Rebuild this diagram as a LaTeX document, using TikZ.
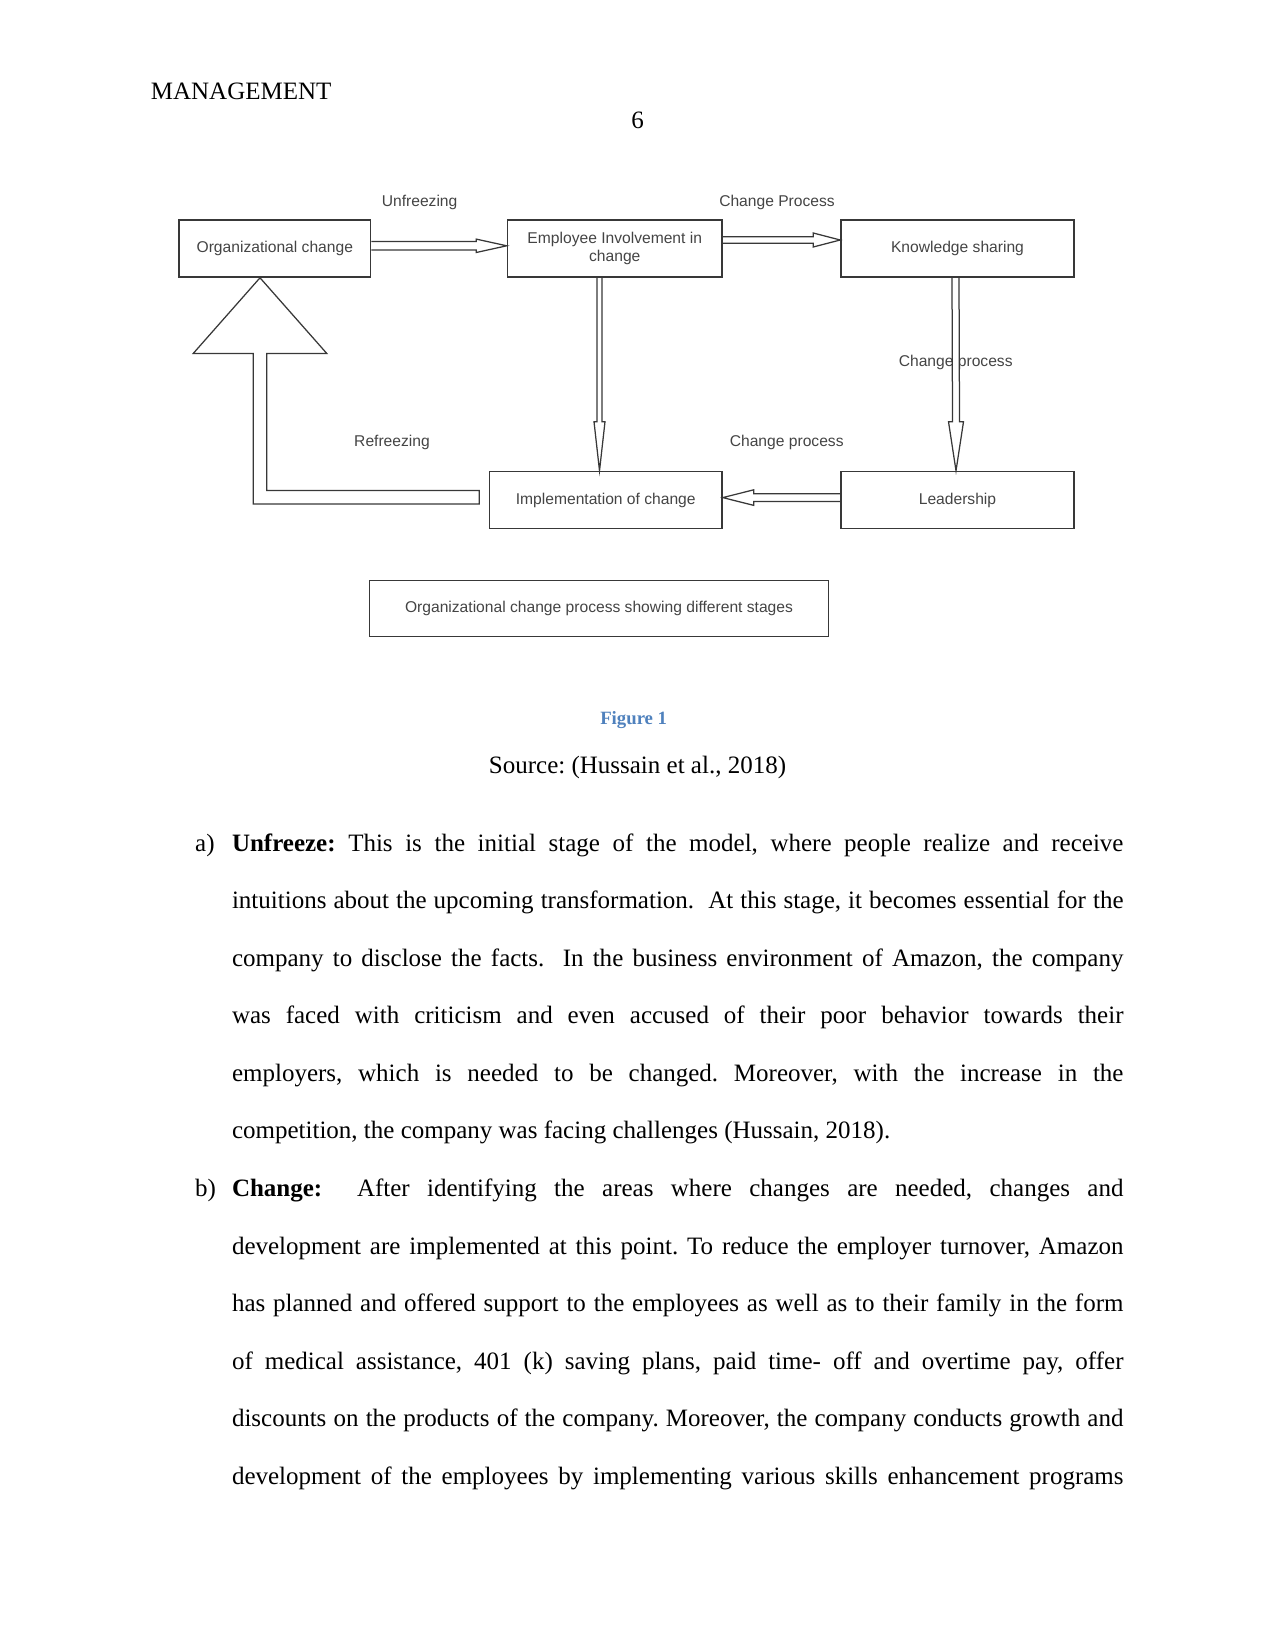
\documentclass[tikz,border=0pt]{standalone}
\usepackage{fontspec}
\setmainfont{Liberation Serif}
\newfontfamily\diag{Liberation Sans}
\usetikzlibrary{calc}
\frenchspacing
\newdimen\px \px=0.48pt
\definecolor{txt}{HTML}{444444}
\definecolor{ln}{HTML}{383838}
\definecolor{figblue}{HTML}{4F81BD}
\newcommand\jl[1]{\hbox to 427.9pt{#1}}
\newcommand\harrow[5]{\draw[arrline] ($(#1)+(0,-#3)$) -- ($(#2)+(#5,-#3)$) -- ($(#2)+(#5,-#4)$) -- (#2) -- ($(#2)+(#5,#4)$) -- ($(#2)+(#5,#3)$) -- ($(#1)+(0,#3)$);}
\newcommand\varrow[5]{\draw[arrline] ($(#1)+(-#3,0)$) -- ($(#2)+(-#3,#5)$) -- ($(#2)+(-#4,#5)$) -- (#2) -- ($(#2)+(#4,#5)$) -- ($(#2)+(#3,#5)$) -- ($(#1)+(#3,0)$);}
\begin{document}
\begin{tikzpicture}[x=0.48pt,y=-0.48pt,
  box/.style={draw=ln, line width=0.75pt, inner sep=0pt, align=center,
    font=\diag\fontsize{7.5}{8.6}\selectfont, text=txt},
  lbl/.style={inner sep=0pt, font=\diag\fontsize{7.5}{8.6}\selectfont, text=txt},
  arrline/.style={draw=ln, line width=0.6pt, fill=white, line join=miter},
  body/.style={anchor=base west, inner sep=0pt, font=\fontsize{12}{14}\selectfont},
  plain/.style={inner sep=0pt, font=\fontsize{12}{14}\selectfont}]
\useasboundingbox (0,0) rectangle (1275,1651);

% header
\node[plain, anchor=base west] (hdr) at (150.5,99.5) {MANAGEMENT};
\node[plain, anchor=base] (pg) at (637.5,128.2) {6};

% diagram labels
\node[lbl] (lunf) at (419.6,202) {Unfreezing};
\node[lbl] (lcp1) at (777,202) {Change Process};
\node[lbl] (lcp2) at (955.7,362.3) {Change process};
\node[lbl] (lcp3) at (786.7,442) {Change process};
\node[lbl] (lref) at (392,442) {Refreezing};

% box positions (placeholders for coordinates)
\path node[box, draw=none, minimum width=191.6\px, minimum height=57\px] (org) at (274.8,248.5) {}
      node[box, draw=none, minimum width=214.5\px, minimum height=57\px] (emp) at (614.75,248.5) {}
      node[box, draw=none, minimum width=233\px, minimum height=57\px] (know) at (957.5,248.5) {}
      node[box, draw=none, minimum width=232.5\px, minimum height=57\px] (impl) at (605.75,500) {}
      node[box, draw=none, minimum width=233\px, minimum height=57\px] (lead) at (957.5,500) {};

% connector end points
\coordinate (s1) at ($(org.east)+(0,-2.7)$);
\coordinate (e1) at ($(emp.west)+(0,-2.7)$);
\coordinate (s2) at ($(emp.east)+(0,-8.5)$);
\coordinate (e2) at ($(know.west)+(0,-8.5)$);
\coordinate (s3) at ($(emp.south)+(-15.25,0)$);
\coordinate (e3) at ($(impl.north)+(-6.25,0)$);
\coordinate (s4) at ($(know.south)+(-2,0)$);
\coordinate (e4) at ($(lead.north)+(-1.5,0)$);
\coordinate (s5) at ($(lead.west)+(0,-2.4)$);
\coordinate (e5) at ($(impl.east)+(0,-2.4)$);
\coordinate (r1) at ($(org.south)+(-14.8,0)$);
\coordinate (r2) at ($(impl.west)+(-9.5,-2.7)$);

% hollow arrows
\harrow{s1}{e1}{4.2}{6.7}{-30.5}
\harrow{s2}{e2}{3.3}{7}{-27}
\varrow{s3}{e3}{2.6}{5.5}{-49}
\varrow{s4}{e4}{3.5}{7.5}{-49}
\harrow{s5}{e5}{3.85}{7.8}{31}

% refreezing big arrow
\draw[arrline] ($(r2)+(0,-6.7)$) -- ($(r2)+(0,6.7)$) -- ($(r1 |- r2)+(-6.7,6.7)$)
  -- ($(r1)+(-6.7,75.7)$) -- ($(r1)+(-66.8,75.7)$) -- (r1) -- ($(r1)+(66.8,75.7)$)
  -- ($(r1)+(6.7,75.7)$) -- ($(r1 |- r2)+(6.7,-6.7)$) -- cycle;

% boxes
\node[box, minimum width=191.6\px, minimum height=57\px] (orgb) at (org) {Organizational change};
\node[box, minimum width=214.5\px, minimum height=57\px] (empb) at (emp) {Employee Involvement in\\change};
\node[box, minimum width=233\px, minimum height=57\px] (knowb) at (know) {Knowledge sharing};
\node[box, minimum width=232.5\px, minimum height=57\px] (implb) at (impl) {Implementation of change};
\node[box, minimum width=233\px, minimum height=57\px] (leadb) at (lead) {Leadership};
\node[box, minimum width=459\px, minimum height=56\px] (cap) at (599,608.3) {Organizational change process showing different stages};

% figure caption
\node[inner sep=0pt, anchor=base, font=\fontsize{9}{11}\selectfont\bfseries, text=figblue] (fig) at (633.7,724.5) {Figure 1};
\node[plain, anchor=base] (src) at (637.5,773.5) {Source: (Hussain et al., 2018)};

% list a)
\node[plain, anchor=base west] (la) at (194.8,851) {a)};
\node[body] (a1) at (231.6,851) {\jl{\textbf{Unfreeze:} This is the initial stage of the model, where people realize and receive}};
\node[body] (a2) at (231.6,908.5) {\jl{intuitions about the upcoming transformation.\ \ At this stage, it becomes essential for the}};
\node[body] (a3) at (231.6,966) {\jl{company to disclose the facts.\ \ In the business environment of Amazon, the company}};
\node[body] (a4) at (231.6,1023.5) {\jl{was faced with criticism and even accused of their poor behavior towards their}};
\node[body] (a5) at (231.6,1081) {\jl{employers, which is needed to be changed. Moreover, with the increase in the}};
\node[body] (a6) at (231.6,1138.5) {competition, the company was facing challenges (Hussain, 2018).};

% list b)
\node[plain, anchor=base west] (lb) at (194.8,1196.5) {b)};
\node[body] (b1) at (231.6,1196.5) {\jl{\textbf{Change:}\ \ After identifying the areas where changes are needed, changes and}};
\node[body] (b2) at (231.6,1254) {\jl{development are implemented at this point. To reduce the employer turnover, Amazon}};
\node[body] (b3) at (231.6,1311.5) {\jl{has planned and offered support to the employees as well as to their family in the form}};
\node[body] (b4) at (231.6,1369) {\jl{of medical assistance, 401 (k) saving plans, paid time- off and overtime pay, offer}};
\node[body] (b5) at (231.6,1426.5) {\jl{discounts on the products of the company. Moreover, the company conducts growth and}};
\node[body] (b6) at (231.6,1484) {\jl{development of the employees by implementing various skills enhancement programs}};
\end{tikzpicture}
\end{document}
